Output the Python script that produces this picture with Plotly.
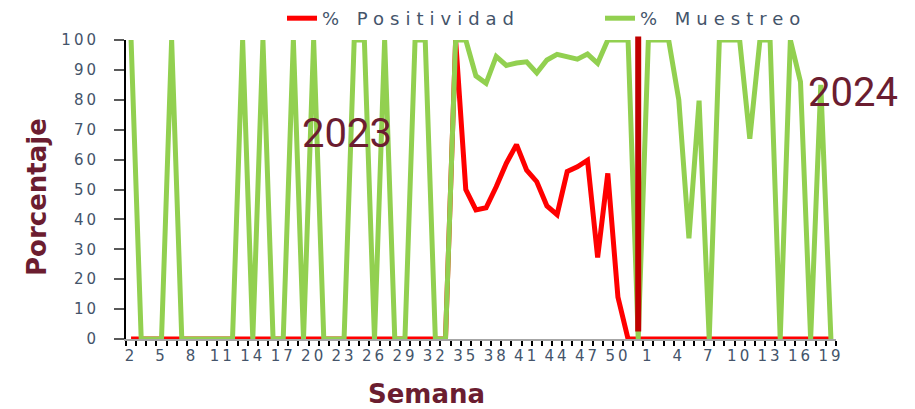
import plotly.graph_objects as go

# Categories: epidemiological weeks 2023 (2-52) then 2024 (1-19)
weeks = ["2", "3", "4", "5", "6", "7", "8", "9", "10", "11", "12", "13", "14", "15", "16",
         "17", "18", "19", "20", "21", "22", "23", "24", "25", "26", "27", "28", "29", "30",
         "31", "32", "33", "34", "35", "36", "37", "38", "39", "40", "41", "42", "43", "44",
         "45", "46", "47", "48", "49", "50", "51", "52",
         "1", "2", "3", "4", "5", "6", "7", "8", "9", "10", "11", "12", "13", "14", "15",
         "16", "17", "18", "19"]

positividad = [0, 0, 0, 0, 0, 0, 0, 0, 0, 0, 0, 0, 0, 0, 0, 0, 0, 0, 0, 0,
               0, 0, 0, 0, 0, 0, 0, 0, 0, 0, 0, 0,
               100, 50, 43.2, 43.9, 50.9, 58.8, 65, 56.5, 52.6, 44.5, 41.6, 56, 57.6, 59.8,
               27.3, 55.4, 14, 0,
               0, 0, 0, 0, 0, 0, 0, 0, 0, 0, 0, 0, 0, 0, 0, 0, 0, 0, 0, 0]

muestreo = [100, 0, 0, 0, 100, 0, 0, 0, 0, 0, 0, 100, 0, 100, 0, 0, 100, 0, 100, 0,
            0, 0, 100, 100, 0, 100, 0, 0, 100, 100, 0, 0,
            100, 100, 88, 85.5, 94.5, 91.5, 92.3, 92.7, 89, 93.3, 95.2, 94.2, 93.6, 95.3,
            92.2, 100, 100, 100,
            0, 100, 100, 100, 80, 33.7, 79.7, 0, 100, 100, 100, 67, 100, 100, 0, 100,
            86, 0, 85, 0]

y_ticks = [0, 10, 20, 30, 40, 50, 60, 70, 80, 90, 100]
label_every = 3
separator_index = 50  # week 52 of 2023, boundary between years

x = list(range(len(weeks)))
SLATE = "#44546A"
MAROON = "#6B1D30"

# page body has an 8px margin; figure sized to fit the 915x409 window
OFF = 8
W, H = 915 - OFF, 409 - OFF
L, R, T, B = 126 - OFF, 79, 40 - OFF, 70
pw, ph = W - L - R, H - T - B


def px(xp, yp):
    """window-pixel position -> paper coordinates"""
    return (xp - OFF - L) / pw, (H - B - (yp - OFF)) / ph


def spaced(t, ls):
    return f'<span style="letter-spacing:{ls}px">{t}</span>'


fig = go.Figure()
fig.add_trace(go.Scatter(x=x, y=positividad, mode="lines", name=spaced("% Positividad", 6),
                         line=dict(color="#FF0000", width=5)))
fig.add_trace(go.Scatter(x=x, y=muestreo, mode="lines", name=spaced("% Muestreo", 6),
                         line=dict(color="#92D050", width=5)))

fig.add_shape(type="line", xref="x", yref="paper", x0=separator_index, x1=separator_index,
              y0=0.025, y1=1.012, line=dict(color="#C00000", width=6))

annots = [("2023", 347, 133, 0, dict(family="Roboto", size=40, color=MAROON)),
          ("2024", 853, 92, 0, dict(family="Roboto", size=40, color=MAROON)),
          ("Semana", 426, 394, 0, dict(family="DejaVu Sans", size=26, color=MAROON, weight="bold")),
          ("Porcentaje", 37, 197, -90, dict(family="DejaVu Sans", size=26, color=MAROON, weight="bold"))]
for txt, xp, yp, ang, f in annots:
    ax_, ay_ = px(xp, yp)
    fig.add_annotation(x=ax_, y=ay_, xref="paper", yref="paper", text=txt, showarrow=False,
                       xanchor="center", yanchor="middle", textangle=ang, font=f)

tickvals = x[::label_every]
ticktext = [spaced(weeks[i], 3) for i in tickvals]

lx, ly = px(282, 0)
fig.update_layout(
    width=W, height=H,
    margin=dict(l=L, r=R, t=T, b=B, autoexpand=False),
    paper_bgcolor="white", plot_bgcolor="white",
    font=dict(family="DejaVu Sans", color=SLATE),
    showlegend=True,
    legend=dict(orientation="h", x=lx, xanchor="left", y=ly, yanchor="top",
                entrywidth=273, font=dict(size=18, color=SLATE),
                bgcolor="rgba(0,0,0,0)"),
    xaxis=dict(range=[-0.5, len(weeks) - 0.5], tickmode="array", tickvals=tickvals,
               ticktext=ticktext, tickangle=0, ticks="", showgrid=False, zeroline=False,
               showline=True, linecolor="#A6A6A6", linewidth=1.5,
               tickfont=dict(size=15, color=SLATE), ticklabelstandoff=2,
               minor=dict(ticks="outside", ticklen=5, tickwidth=1.5, tickcolor="#000000",
                          tickmode="array", tickvals=[i - 0.5 for i in range(len(weeks) + 1)])),
    yaxis=dict(range=[0, 100], tickmode="array", tickvals=y_ticks,
               ticktext=[spaced(str(v), 3) for v in y_ticks],
               ticks="outside", ticklen=10, tickwidth=1.5, tickcolor="#595959",
               showline=True, linecolor="#000000", linewidth=2, showgrid=False,
               zeroline=False, tickfont=dict(size=15, color=SLATE), ticklabelstandoff=12),
)

fig.write_html("out.html")
